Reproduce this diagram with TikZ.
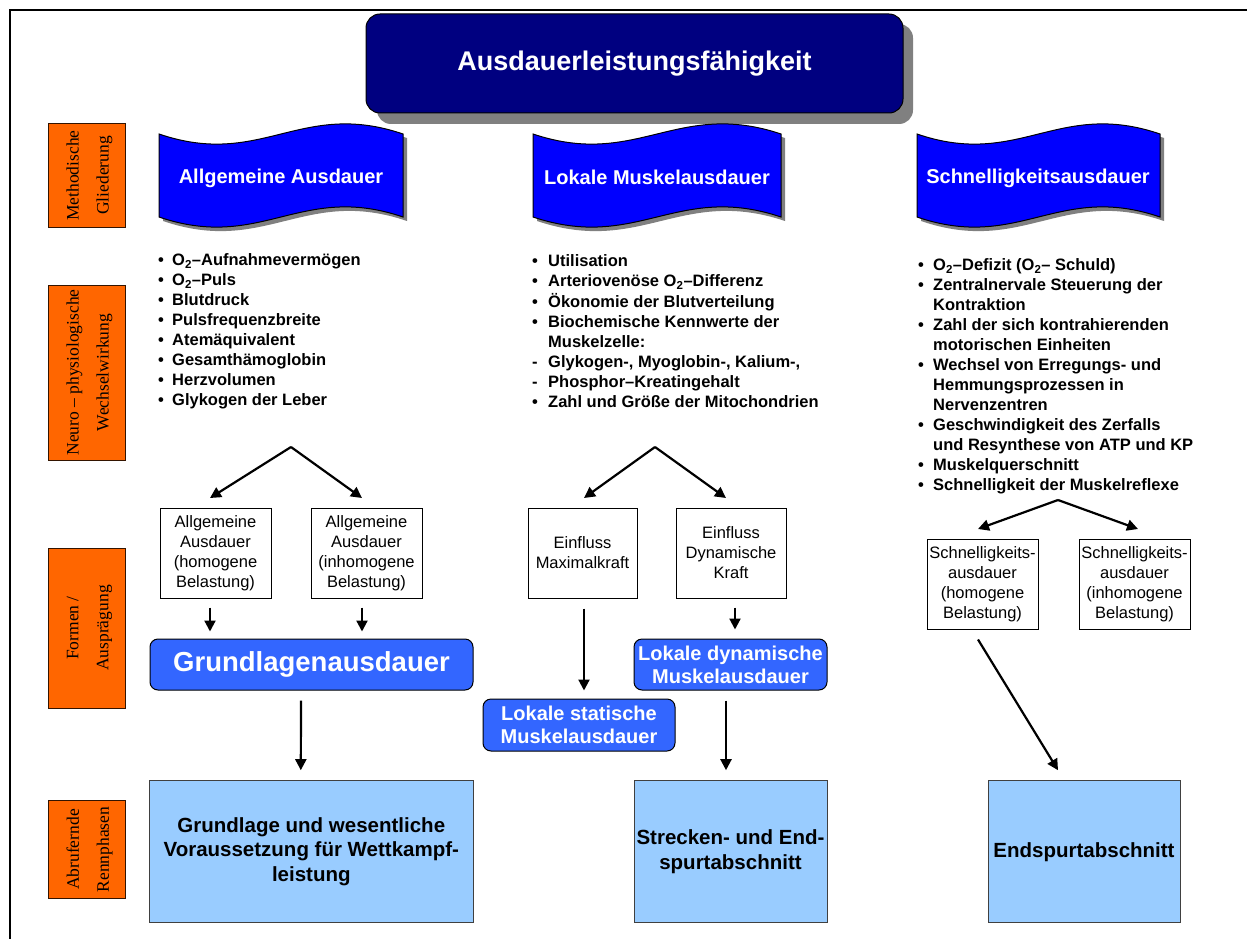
\documentclass[tikz,border=0pt]{standalone}
\usepackage{fontspec}
\setmainfont{Liberation Sans}
\newfontfamily\sidefont{Liberation Serif}
\usetikzlibrary{arrows.meta,calc}

\definecolor{titlenavy}{RGB}{0,0,128}
\definecolor{bannerblue}{RGB}{0,0,255}
\definecolor{sideorange}{RGB}{255,102,0}
\definecolor{formblue}{RGB}{51,102,255}
\definecolor{phaseblue}{RGB}{153,204,255}
\definecolor{shadowgray}{RGB}{128,128,128}

% list helpers: bullet / continuation / dash with a fixed hanging indent
\newcommand\itm[2]{\makebox[#1][l]{\strut\textbullet}#2}
\newcommand\cnt[2]{\makebox[#1][l]{\strut}#2}
\newcommand\dsh[2]{\makebox[#1][l]{\strut-}#2}

% wavy banner outline: x, y (top left), width, height
\newcommand\wave[4]{(#1,#2) .. controls ({#1+0.42*#3},{#2+35}) and ({#1+0.58*#3},{#2-35}) .. ({#1+#3},#2)
  -- ({#1+#3},{#2+#4}) .. controls ({#1+0.58*#3},{#2+#4-35}) and ({#1+0.42*#3},{#2+#4+35}) .. (#1,{#2+#4}) -- cycle}

\tikzset{
  sidebox/.style={draw=black!80!sideorange, line width=1pt, fill=sideorange,
    minimum height=77pt, inner sep=0pt, rotate=90},
  sidetext/.style={inner sep=0pt, font=\sidefont\fontsize{17.5}{30}\selectfont,
    align=center, rotate=90},
  bannertext/.style={text=white, font=\bfseries\fontsize{20}{24}\selectfont, inner sep=0pt},
  listtext/.style={anchor=north west, inner sep=0pt, align=left,
    font=\bfseries\fontsize{16.5}{20}\selectfont},
  smallbox/.style={draw=black, line width=1pt, fill=white, minimum width=111pt,
    minimum height=90pt, inner sep=1pt, align=center, font=\fontsize{16.5}{20}\selectfont},
  formbox/.style={draw=black, line width=1pt, fill=formblue, rounded corners=8pt,
    text=white, inner sep=1pt, align=center, font=\bfseries\fontsize{20}{23}\selectfont},
  phasebox/.style={draw=black!75, line width=1pt, fill=phaseblue, inner sep=2pt,
    align=center, font=\bfseries\fontsize{20.5}{24.5}\selectfont},
  arr/.style={line width=2.2pt, -{Triangle[length=11pt,width=11pt]}},
}

\begin{document}
\begin{tikzpicture}[x=1pt,y=-1pt]
\useasboundingbox (0,0) rectangle (1247,939);
\fill[white] (0,0) rectangle (1247,939);

% outer frame
\draw[line width=2pt] (10,939) -- (10,10) -- (1247,10);

% title
\fill[shadowgray, rounded corners=14pt] (377,24) rectangle (913,124);
\node[draw=black, line width=1pt, fill=titlenavy, rounded corners=14pt,
  minimum width=537pt, minimum height=99pt, text=white,
  font=\bfseries\fontsize{27}{32}\selectfont] (title) at (634.5,63.5) {Ausdauerleistungsfähigkeit};

% side labels (rotated: width runs along the text)
\node[sidebox, minimum width=103pt] (s1) at (86.5,175.5) {};
\node[sidebox, minimum width=175pt] (s2) at (86.5,372.5) {};
\node[sidebox, minimum width=160pt] (s3) at (86.5,628) {};
\node[sidebox, minimum width=98pt] (s4) at (86.5,849.5) {};
\node[sidetext] (s1t) at ($(s1.center)+(3,0)$) {Methodische\\Gliederung};
\node[sidetext] (s2t) at ($(s2.center)+(3,0)$) {Neuro – physiologische\\Wechselwirkung};
\node[sidetext] (s3t) at ($(s3.center)+(3,0)$) {Formen /\\Ausprägung};
\node[sidetext] (s4t) at ($(s4.center)+(3,0)$) {Abrufernde\\Rennphasen};

% banners
\foreach \bx/\bw in {159/244, 533/248, 917/243}{
  \fill[shadowgray, shift={(4,4)}] \wave{\bx}{134}{\bw}{83};
  \draw[fill=bannerblue, line width=1pt] \wave{\bx}{134}{\bw}{83};
}
\node[bannertext] (b1) at (281,178) {Allgemeine Ausdauer};
\node[bannertext] (b2) at (657,177) {Lokale Muskelausdauer};
\node[bannertext] (b3) at (1038,178) {Schnelligkeitsausdauer};

% factor lists
\node[listtext] (l1) at (158,251.7) {%
  \itm{14pt}{O\textsubscript{2}–Aufnahmevermögen}\\
  \itm{14pt}{O\textsubscript{2}–Puls}\\
  \itm{14pt}{Blutdruck}\\
  \itm{14pt}{Pulsfrequenzbreite}\\
  \itm{14pt}{Atemäquivalent}\\
  \itm{14pt}{Gesamthämoglobin}\\
  \itm{14pt}{Herzvolumen}\\
  \itm{14pt}{Glykogen der Leber}};
\node[listtext] (l2) at (532,252.4) {%
  \itm{16pt}{Utilisation}\\
  \itm{16pt}{Arteriovenöse O\textsubscript{2}–Differenz}\\
  \itm{16pt}{Ökonomie der Blutverteilung}\\
  \itm{16pt}{Biochemische Kennwerte der}\\
  \cnt{16pt}{Muskelzelle:}\\
  \dsh{16pt}{Glykogen-, Myoglobin-, Kalium-,}\\
  \dsh{16pt}{Phosphor–Kreatingehalt}\\
  \itm{16pt}{Zahl und Größe der Mitochondrien}};
\node[listtext] (l3) at (918,256.7) {%
  \itm{15pt}{O\textsubscript{2}–Defizit (O\textsubscript{2}– Schuld)}\\
  \itm{15pt}{Zentralnervale Steuerung der}\\
  \cnt{15pt}{Kontraktion}\\
  \itm{15pt}{Zahl der sich kontrahierenden}\\
  \cnt{15pt}{motorischen Einheiten}\\
  \itm{15pt}{Wechsel von Erregungs- und}\\
  \cnt{15pt}{Hemmungsprozessen in}\\
  \cnt{15pt}{Nervenzentren}\\
  \itm{15pt}{Geschwindigkeit des Zerfalls}\\
  \cnt{15pt}{und Resynthese von ATP und KP}\\
  \itm{15pt}{Muskelquerschnitt}\\
  \itm{15pt}{Schnelligkeit der Muskelreflexe}};

% forms
\node[smallbox] (f1) at (215.5,553) {Allgemeine\\Ausdauer\\(homogene\\Belastung)};
\node[smallbox] (f2) at (366.5,553) {Allgemeine\\Ausdauer\\(inhomogene\\Belastung)};
\node[smallbox, minimum width=109pt] (f3) at (582.5,553) {Einfluss\\Maximalkraft};
\node[smallbox, minimum width=110pt] (f4) at (731,553) {Einfluss\\Dynamische\\Kraft};
\node[smallbox] (f5) at (982.5,584) {Schnelligkeits-\\ausdauer\\(homogene\\Belastung)};
\node[smallbox] (f6) at (1134.5,584) {Schnelligkeits-\\ausdauer\\(inhomogene\\Belastung)};

\node[formbox, minimum width=323pt, minimum height=51pt,
  font=\bfseries\fontsize{27.5}{32}\selectfont] (g1) at (311.5,664.5) {Grundlagenausdauer};
\node[formbox, minimum width=193pt, minimum height=51pt] (g2) at (730.5,664.5) {Lokale dynamische\\Muskelausdauer};
\node[formbox, minimum width=192pt, minimum height=52pt] (g3) at (579,725) {Lokale statische\\Muskelausdauer};

% race phases
\node[phasebox, minimum width=324pt, minimum height=142pt] (p1) at (311.3,851.7) {Grundlage und wesentliche\\Voraussetzung für Wettkampf-\\leistung};
\node[phasebox, minimum width=193pt, minimum height=142pt] (p2) at (730.5,851.7) {Strecken- und End-\\spurtabschnitt};
\node[phasebox, minimum width=192pt, minimum height=142pt] (p3) at (1084,851.7) {Endspurtabschnitt};

% branch points and arrow ends
\coordinate (apA) at (291,447);
\coordinate (tA1) at (210,498);
\coordinate (tA2) at (362,498);
\coordinate (apB) at (655,447);
\coordinate (tB1) at (584,498);
\coordinate (tB2) at (726,498);
\coordinate (apC) at (1058,500);
\coordinate (tC1) at (978,529);
\coordinate (tC2) at (1138,529);

\draw[arr] (apA) -- (tA1);
\draw[arr] (apA) -- (tA2);
\draw[arr] (apB) -- (tB1);
\draw[arr] (apB) -- (tB2);
\draw[arr] (apC) -- (tC1);
\draw[arr] (apC) -- (tC2);

\draw[arr] ($(f1.south)+(-5.5,9)$) -- ($(g1.north)+(-101.5,-7)$);
\draw[arr] ($(f2.south)+(-4.5,9)$) -- ($(g1.north)+(50.5,-7)$);
\draw[arr] ($(f3.south)+(1.5,10)$) -- ($(g3.north)+(5,-8)$);
\draw[arr] ($(f4.south)+(4,9)$) -- ($(g2.north)+(4.5,-9)$);
\draw[arr] ($(g1.south)+(-10.5,10)$) -- ($(p1.north)+(-10.5,-10)$);
\draw[arr] ($(g2.south)+(-4.5,10)$) -- ($(p2.north)+(-4.5,-10)$);
\draw[arr] ($(f5.south)+(-4.5,10)$) -- ($(p3.north)+(-26,-10)$);
\end{tikzpicture}
\end{document}
